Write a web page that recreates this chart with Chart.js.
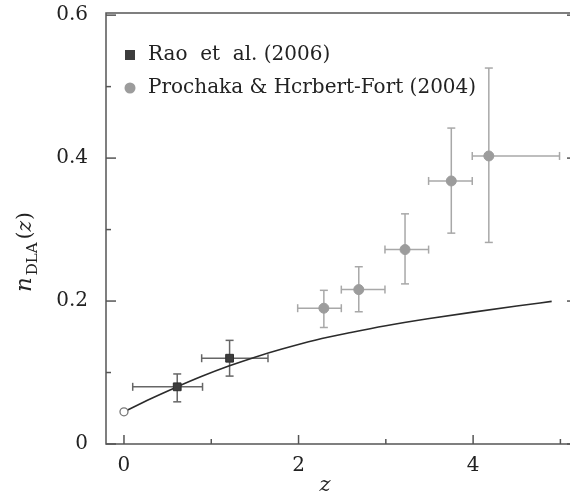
<!doctype html>
<html lang="en">
<head>
  <meta charset="utf-8">
  <title>n_DLA(z)</title>
  <script src="https://cdn.jsdelivr.net/npm/chart.js"></script>
  <style>
    body { margin: 0; overflow: hidden; background: #fff; }
    canvas { display: block; }
  </style>
</head>
<body>
  <canvas id="ndla" width="570" height="498"></canvas>
<script>
  // ---- data ----
  const curveZ = [0, 0.3, 0.6, 0.9, 1.2, 1.5, 1.8, 2.2, 2.6, 3.0, 3.5, 4.0, 4.5, 4.9]
  const curveN = [0.045, 0.063, 0.0795, 0.095, 0.109, 0.1215, 0.1325, 0.1455, 0.156, 0.1655, 0.1755, 0.1845, 0.193, 0.1995]

  const raoZ = [0.61, 1.21]
  const raoN = [0.080, 0.120]
  const raoZlo = [0.10, 0.89]
  const raoZhi = [0.90, 1.65]
  const raoNlo = [0.059, 0.095]
  const raoNhi = [0.098, 0.145]

  const phZ = [2.29, 2.69, 3.22, 3.75, 4.18]
  const phN = [0.190, 0.216, 0.272, 0.368, 0.403]
  const phZlo = [1.99, 2.49, 2.99, 3.49, 3.99]
  const phZhi = [2.49, 2.99, 3.49, 3.99, 4.99]
  const phNlo = [0.163, 0.185, 0.224, 0.295, 0.282]
  const phNhi = [0.215, 0.248, 0.322, 0.442, 0.526]

  const localZ = [0]
  const localN = [0.045]

  const xTickValues = [0, 2, 4]
  const xTickLabels = ['0', '2', '4']
  const xMinorValues = [1, 3, 5]
  const yTickValues = [0, 0.2, 0.4, 0.6]
  const yTickLabels = ['0', '0.2', '0.4', '0.6']
  const yMinorValues = [0.1, 0.3, 0.5]
  // the right frame of the figure sits just past the cropped edge
  const xFrameEnd = 5.19

  const serif = "'DejaVu Serif', 'Liberation Serif', serif"
  const pts = (xs, ys) => xs.map((x, i) => ({ x: x, y: ys[i] }))

  // error bars, frame ticks, titles and legend
  const errorBars = [
    { z: raoZ, n: raoN, zlo: raoZlo, zhi: raoZhi, nlo: raoNlo, nhi: raoNhi, color: '#666' },
    { z: phZ, n: phN, zlo: phZlo, zhi: phZhi, nlo: phNlo, nhi: phNhi, color: '#a8a8a8' }
  ]

  const decor = {
    id: 'decor',
    beforeDatasetsDraw(chart) {
      const c = chart.ctx, xs = chart.scales.x, ys = chart.scales.y, a = chart.chartArea
      const right = xs.getPixelForValue(xFrameEnd)
      c.save()
      // frame
      c.strokeStyle = '#555'
      c.lineWidth = 1.5
      c.strokeRect(a.left, a.top, right - a.left, a.bottom - a.top)
      // inward ticks
      const tick = (x1, y1, x2, y2) => { c.beginPath(); c.moveTo(x1, y1); c.lineTo(x2, y2); c.stroke() }
      xTickValues.forEach(v => { const p = xs.getPixelForValue(v); tick(p, a.bottom, p, a.bottom - 9) })
      xMinorValues.forEach(v => { const p = xs.getPixelForValue(v); tick(p, a.bottom, p, a.bottom - 5) })
      yTickValues.forEach(v => {
        const p = ys.getPixelForValue(v)
        tick(a.left, p, a.left + 10, p); tick(right, p, right - 10, p)
      })
      yMinorValues.forEach(v => {
        const p = ys.getPixelForValue(v)
        tick(a.left, p, a.left + 5, p); tick(right, p, right - 5, p)
      })
      // error bars
      c.lineWidth = 1.5
      errorBars.forEach(s => {
        c.strokeStyle = s.color
        s.z.forEach((z, i) => {
          const px = xs.getPixelForValue(z), py = ys.getPixelForValue(s.n[i])
          const x1 = xs.getPixelForValue(s.zlo[i]), x2 = xs.getPixelForValue(s.zhi[i])
          const y1 = ys.getPixelForValue(s.nlo[i]), y2 = ys.getPixelForValue(s.nhi[i])
          tick(x1, py, x2, py); tick(px, y1, px, y2)
          tick(x1, py - 4, x1, py + 4); tick(x2, py - 4, x2, py + 4)
          tick(px - 4, y1, px + 4, y1); tick(px - 4, y2, px + 4, y2)
        })
      })
      c.restore()
    },
    afterDraw(chart) {
      const c = chart.ctx
      c.save()
      c.fillStyle = '#222'
      // x title
      c.font = `italic 21px ${serif}`
      c.textAlign = 'center'
      c.textBaseline = 'middle'
      c.fillText('z', 325, 486)
      // y title, rotated, with subscript
      c.translate(26, 292)
      c.rotate(-Math.PI / 2)
      c.textAlign = 'left'
      c.textBaseline = 'alphabetic'
      c.font = `italic 23px ${serif}`
      c.fillText('n', 0, 5)
      let w = c.measureText('n').width + 2
      c.font = `15px ${serif}`
      c.fillText('DLA', w, 11)
      w += c.measureText('DLA').width + 3
      c.font = `20px ${serif}`
      c.fillText('(', w, 5)
      w += c.measureText('(').width
      c.font = `italic 20px ${serif}`
      c.fillText('z', w, 5)
      w += c.measureText('z').width + 1
      c.font = `20px ${serif}`
      c.fillText(')', w, 5)
      c.restore()

      // legend
      c.save()
      const ds = chart.data.datasets
      c.font = `20px ${serif}`
      c.textBaseline = 'middle'
      c.fillStyle = ds[1].backgroundColor
      c.fillRect(125, 50, 10, 10)
      c.fillStyle = ds[2].backgroundColor
      c.beginPath(); c.arc(130, 88, 5.5, 0, Math.PI * 2); c.fill()
      c.fillStyle = '#222'
      c.fillText(ds[1].label, 148, 55)
      c.fillText(ds[2].label, 148, 88)
      c.restore()
    }
  }

  new Chart(document.getElementById('ndla'), {
    type: 'scatter',
    data: {
      datasets: [
        {
          label: 'model',
          data: pts(curveZ, curveN),
          showLine: true,
          borderColor: '#2b2b2b',
          borderWidth: 1.6,
          pointRadius: 0,
          cubicInterpolationMode: 'monotone',
          order: 3
        },
        {
          label: 'Rao  et  al. (2006)',
          data: pts(raoZ, raoN),
          pointStyle: 'rect',
          pointRadius: 5.5,
          backgroundColor: '#3c3c3c',
          borderColor: '#2e2e2e',
          borderWidth: 1,
          order: 1
        },
        {
          label: 'Prochaka & Hcrbert-Fort (2004)',
          data: pts(phZ, phN),
          pointStyle: 'circle',
          pointRadius: 5,
          backgroundColor: '#9c9c9c',
          borderColor: '#9c9c9c',
          borderWidth: 1,
          order: 1
        },
        {
          label: 'z = 0',
          data: pts(localZ, localN),
          pointStyle: 'circle',
          pointRadius: 4,
          backgroundColor: '#fff',
          borderColor: '#777',
          borderWidth: 1.3,
          order: 0
        }
      ]
    },
    options: {
      responsive: false,
      animation: false,
      layout: { padding: 0, autoPadding: false },
      plugins: { legend: { display: false }, tooltip: { enabled: false } },
      scales: {
        x: {
          type: 'linear',
          min: -0.206,
          max: 5.11,
          grid: { display: false, drawTicks: false },
          border: { display: false },
          afterBuildTicks: s => { s.ticks = xTickValues.map(v => ({ value: v })) },
          afterFit: s => { s.height = 54; s.paddingLeft = 0; s.paddingRight = 0 },
          ticks: {
            padding: 10,
            color: '#222',
            font: { family: serif, size: 20 },
            callback: (v, i) => xTickLabels[i]
          }
        },
        y: {
          type: 'linear',
          min: 0,
          max: 0.603,
          grid: { display: false, drawTicks: false },
          border: { display: false },
          afterBuildTicks: s => { s.ticks = yTickValues.map(v => ({ value: v })) },
          afterFit: s => { s.width = 106; s.paddingTop = 13; s.paddingBottom = 0 },
          ticks: {
            padding: 18,
            color: '#222',
            font: { family: serif, size: 20 },
            callback: (v, i) => yTickLabels[i]
          }
        }
      }
    },
    plugins: [decor]
  })
</script>
</body>
</html>
